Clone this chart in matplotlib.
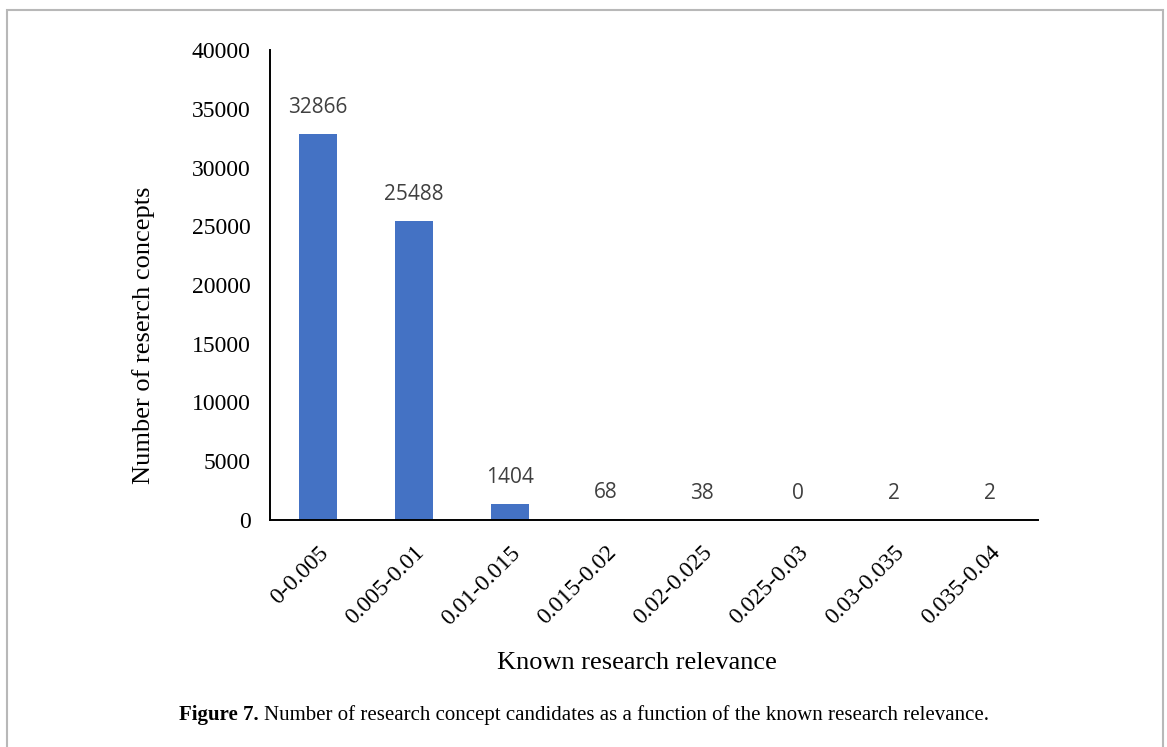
import matplotlib.pyplot as plt
from matplotlib.patches import Rectangle

bins = ['0-0.005', '0.005-0.01', '0.01-0.015', '0.015-0.02',
        '0.02-0.025', '0.025-0.03', '0.03-0.035', '0.035-0.04']
counts = [32866, 25488, 1404, 68, 38, 0, 2, 2]
y_ticks = [0, 5000, 10000, 15000, 20000, 25000, 30000, 35000, 40000]

serif = ['Liberation Serif', 'DejaVu Serif']
plt.rcParams['font.family'] = serif
W, H = 1167, 747

fig = plt.figure(figsize=(W / 100, H / 100), dpi=100)
# thin grey frame around the figure (open at the bottom)
fig.patches.append(Rectangle((7 / W, -0.05), 1156 / W, 1.05 - 10 / H,
                             transform=fig.transFigure, fill=False,
                             edgecolor='#b8b8b8', linewidth=1.5))

ax = fig.add_axes([270 / W, 1 - 520 / H, 768 / W, 470 / H])
x = list(range(len(bins)))
ax.bar(x, counts, width=0.4, color='#4472C4')
for xi, c in zip(x, counts):
    ax.annotate(str(c), (xi, c), xytext=(0, 19), textcoords='offset points',
                ha='center', va='center', fontsize=15, color='#404040',
                family=['Open Sans', 'DejaVu Sans'])

ax.set_xlim(-0.5, len(bins) - 0.5)
ax.set_ylim(0, 40000)
ax.tick_params(axis='y', length=0, pad=14, labelsize=17)
ax.tick_params(axis='x', length=0, pad=16, labelsize=17)
ax.set_yticks(y_ticks)
ax.set_yticklabels([str(t) for t in y_ticks])
ax.set_xticks(x)
ax.set_xticklabels(bins, rotation=45, ha='right', rotation_mode='anchor')
for lbl in ax.get_xticklabels() + ax.get_yticklabels():
    lbl.set_fontfamily(serif)
for side in ['top', 'right']:
    ax.spines[side].set_visible(False)
ax.spines['left'].set_linewidth(1.4)
ax.spines['bottom'].set_linewidth(1.4)

ax.set_ylabel('Number of reserch concepts', fontsize=19, va='center')
ax.yaxis.set_label_coords((144 - 270) / 768, (520 - 335) / 470)
ax.set_xlabel('Known research relevance', fontsize=19, va='center')
ax.xaxis.set_label_coords((637 - 270) / 768, (520 - 663) / 470)

# caption: bold figure number followed by regular text
cap_y = 1 - 715 / H
cap_bold = fig.text(179 / W, cap_y, 'Figure 7.', ha='left', va='center',
                    fontsize=15, fontweight='bold')
fig.canvas.draw()
bb = cap_bold.get_window_extent()
fig.text((bb.x1 + 5) / W, cap_y,
         'Number of research concept candidates as a function of the known research relevance.',
         ha='left', va='center', fontsize=15)

fig.savefig('out.png', dpi=100)
